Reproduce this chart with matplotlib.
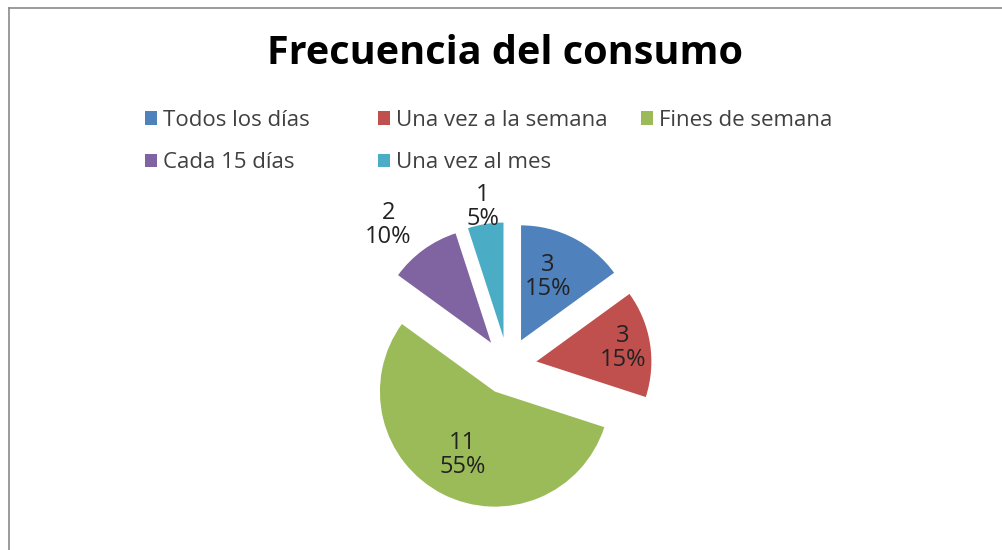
import matplotlib.pyplot as plt
import numpy as np
from matplotlib.patches import Patch

categories = ["Todos los días", "Una vez a la semana", "Fines de semana",
              "Cada 15 días", "Una vez al mes"]
counts = [3, 3, 11, 2, 1]
percents = ["15%", "15%", "55%", "10%", "5%"]
colors = ["#4F81BD", "#C0504D", "#9BBB59", "#8064A2", "#4BACC6"]

# label placement relative to each wedge tip: distance in radii, angle nudge in deg
label_dist = [0.6, 0.76, 0.62, 1.36, 1.15]
label_turn = [4, 0, 0, 5, 0]
EXPLODE = 0.25

plt.rcParams["font.family"] = ["Open Sans", "DejaVu Sans"]

W, H = 1003, 550
fig = plt.figure(figsize=(W / 100, H / 100), dpi=100)

# frame (only top + left visible in reference)
fig.add_artist(plt.Line2D([9 / W, 9 / W], [0, 1 - 8 / H], transform=fig.transFigure,
                          color="#8a8a8a", lw=1.2))
fig.add_artist(plt.Line2D([9 / W, 1], [1 - 8 / H, 1 - 8 / H], transform=fig.transFigure,
                          color="#8a8a8a", lw=1.2))

fig.text(505 / W, 1 - 53 / H, "Frecuencia del consumo", ha="center", va="center",
         fontsize=28.5, fontweight="bold", color="black")

# pie axes: 1 data unit = 115 px, centred at (508, 366)
R = 115
cx, cy = 508, H - 366
half = 200
ax = fig.add_axes([(cx - half) / W, (cy - half) / H, 2 * half / W, 2 * half / H])

wedges, _ = ax.pie(counts, colors=colors, startangle=90, counterclock=False,
                   explode=[EXPLODE] * len(counts), radius=1.0,
                   wedgeprops=dict(linewidth=0))
ax.set_aspect("auto")
ax.set_xlim(-half / R, half / R)
ax.set_ylim(-half / R, half / R)
ax.axis("off")
for w in wedges:
    w.set_clip_on(False)

for w, n, p, d, t in zip(wedges, counts, percents, label_dist, label_turn):
    ang = np.deg2rad((w.theta1 + w.theta2) / 2 + t)
    x0, y0 = w.center
    ax.text(x0 + d * np.cos(ang), y0 + d * np.sin(ang), f"{n}\n{p}",
            ha="center", va="center", fontsize=17, color="#222222",
            linespacing=1.0, clip_on=False)

# legend laid out row-major like the original: three column blocks
cols = [[0, 3], [1, 4], [2]]
col_x = [145, 378, 641]
for idx, x in zip(cols, col_x):
    handles = [Patch(facecolor=colors[i], edgecolor="none") for i in idx]
    fig.legend(handles, [categories[i] for i in idx], loc="upper left",
               bbox_to_anchor=(x / W, 1 - 110 / H), frameon=False, fontsize=16,
               handlelength=0.55, handleheight=0.55, handletextpad=0.25,
               labelspacing=0.95, borderpad=0, borderaxespad=0,
               labelcolor="#404040")

fig.savefig("out.png", dpi=100)
